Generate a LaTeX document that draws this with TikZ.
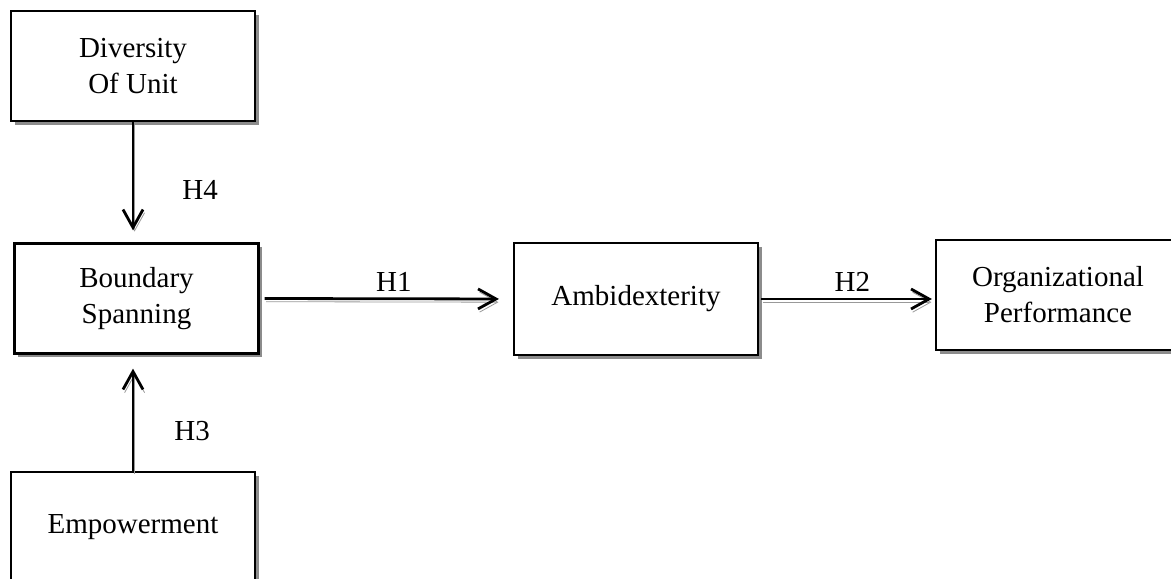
\documentclass[tikz,border=0pt]{standalone}
\usepackage{fontspec}
\setmainfont{Liberation Serif}
\usetikzlibrary{%
    arrows.meta,
    calc,
    shadows
}

\begin{document}
\begin{tikzpicture}[x=0.5pt, y=-0.5pt,
    every node/.style={font=\fontsize{14.5}{18}\selectfont},
    block/.style={draw, fill=white, line width=1.1pt, align=center,
                  minimum width=122pt, minimum height=55pt,
                  drop shadow={shadow xshift=1.8pt, shadow yshift=-1.8pt,
                               fill=black!45, opacity=1}},
    link/.style={-{Straight Barb[length=9pt, width=10pt, line width=1.4pt]},
                 line width=1.4pt,
                 preaction={draw=black!40,
                            transform canvas={xshift=0.8pt, yshift=-1.6pt}}},
    hyp/.style={inner sep=0pt}
  ]
    \useasboundingbox (0,0) rectangle (1171,578);

    \node[block] (div)   at (133,66)      {Diversity\\Of Unit};
    \node[block] (bound) at (136.5,298.5) {Boundary\\Spanning};
    \node[block] (emp)   at (133,527)     {Empowerment};
    \node[block, minimum height=56pt]
                 (amb)   at (636,299)     {Ambidexterity};
    \node[block] (org)   at (1058,295)    {Organizational\\Performance};

    \draw[link, shorten >=6pt] (div.south) -- (div.south |- bound.north)
        node[hyp, pos=0.56, right=24pt] {H4};
    \draw[link, shorten >=7pt] (emp.north) -- (emp.north |- bound.south)
        node[hyp, pos=0.34, right=20pt] {H3};
    \draw[link, shorten <=2.5pt, shorten >=7pt] (bound.east) -- (amb.west)
        node[hyp, pos=0.53, above=3pt] {H1};
    \draw[link, shorten <=1pt, shorten >=1.5pt] (amb.east) -- (amb.east -| org.west)
        node[hyp, pos=0.53, above=3pt] {H2};
\end{tikzpicture}
\end{document}
